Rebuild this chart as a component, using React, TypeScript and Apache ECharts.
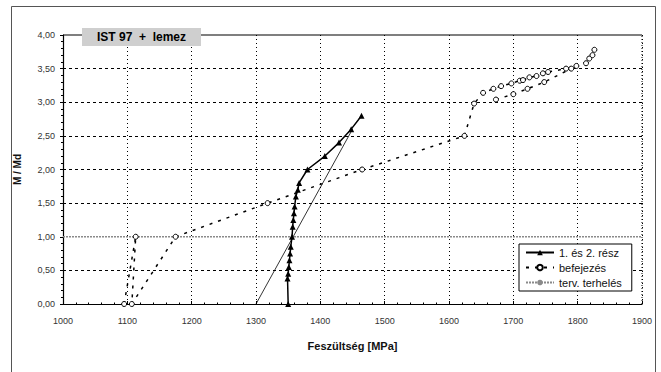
import React, { useEffect, useRef } from "react";
import * as echarts from "echarts";

// Stage 1 & 2 loading path (stress in MPa, relative moment M/Md)
const stageX = [1350, 1349, 1350, 1351, 1352, 1353, 1354, 1356, 1357, 1358, 1359, 1360, 1362, 1365, 1367, 1380, 1407, 1429, 1448, 1464];
const stageY = [0, 0.38, 0.45, 0.55, 0.65, 0.75, 0.85, 1.0, 1.15, 1.25, 1.35, 1.45, 1.6, 1.7, 1.8, 2.0, 2.2, 2.4, 2.6, 2.8];

// Straight reference line of the stage path
const refX = [1300, 1450];
const refY = [0, 2.6];

// Completion ("befejezés") path, main branch
const finishX = [1095, 1113, 1107, 1175, 1318, 1465, 1624, 1639, 1653, 1669, 1681, 1697, 1710, 1715, 1725, 1736, 1746, 1754, 1782, 1798, 1813, 1818, 1823, 1826];
const finishY = [0, 1.0, 0, 1.0, 1.5, 2.0, 2.5, 2.98, 3.14, 3.2, 3.24, 3.28, 3.32, 3.33, 3.37, 3.39, 3.43, 3.45, 3.5, 3.54, 3.58, 3.65, 3.7, 3.78];

// Completion path, lower branch
const finish2X = [1673, 1700, 1722, 1748, 1790];
const finish2Y = [3.04, 3.12, 3.2, 3.3, 3.5];

// Design load level
const designX = [1000, 1900];
const designY = [1, 1];

// Axis ranges
const X_MIN = 1000;
const X_MAX = 1900;
const Y_MIN = 0;
const Y_MAX = 4;

const legendNames = ["1. és 2. rész", "befejezés", "terv. terhelés"];
const titleText = "IST 97  +  lemez";
const xName = "Feszültség [MPa]";
const yName = "M / Md";

const pairs = (xs: number[], ys: number[]) => xs.map((x, i) => [x, ys[i]]);

const FONT = "Liberation Sans, Arial, sans-serif";
const W = 661;
const H = 372;

export default function App() {
  const ref = useRef<HTMLDivElement>(null);

  useEffect(() => {
    if (!ref.current) return;
    const chart = echarts.init(ref.current, null, { renderer: "svg" });

    // no dashed grid line at 1.00 (design load line) nor at 4.00 (solid frame edge)
    const ySplitColors = ["#000", "#000", "rgba(0,0,0,0)", "#000", "#000", "#000", "#000", "#000", "rgba(0,0,0,0)"];

    chart.setOption({
      animation: false,
      backgroundColor: "#fff",
      textStyle: { fontFamily: FONT },
      grid: { left: 63, right: 19, top: 35, bottom: 68, containLabel: false },
      xAxis: {
        type: "value",
        min: X_MIN,
        max: X_MAX,
        interval: 100,
        name: xName,
        nameLocation: "middle",
        nameGap: 36,
        nameTextStyle: { fontWeight: "bold", fontSize: 11, color: "#111", fontFamily: FONT },
        axisLine: { show: true, onZero: false, lineStyle: { color: "#000", width: 1.2 } },
        axisTick: { show: true, inside: true, length: 3, lineStyle: { color: "#000" } },
        minorTick: { show: true, splitNumber: 5, length: 1.5, lineStyle: { color: "#000" } },
        axisLabel: {
          fontSize: 9,
          color: "#333",
          margin: 12,
          fontFamily: FONT,
          formatter: (v: number) => String(v),
        },
        splitLine: { show: true, lineStyle: { color: "#000", type: [1, 3], width: 1 } },
      },
      yAxis: {
        type: "value",
        min: Y_MIN,
        max: Y_MAX,
        interval: 0.5,
        name: yName,
        nameLocation: "middle",
        nameGap: 41,
        nameTextStyle: { fontWeight: "bold", fontSize: 10, color: "#111", fontFamily: FONT },
        axisLine: { show: true, onZero: false, lineStyle: { color: "#000", width: 1.2 } },
        axisTick: { show: true, length: 3, lineStyle: { color: "#000" } },
        minorTick: { show: true, splitNumber: 5, length: 2, lineStyle: { color: "#000" } },
        axisLabel: {
          fontSize: 9,
          color: "#333",
          margin: 8,
          fontFamily: FONT,
          formatter: (v: number) => v.toFixed(2).replace(".", ","),
        },
        splitLine: { show: true, lineStyle: { color: ySplitColors, type: [3, 3], width: 1 } },
      },
      legend: {
        data: legendNames,
        orient: "vertical",
        left: 519,
        top: 244,
        backgroundColor: "#fff",
        borderColor: "#000",
        borderWidth: 1,
        borderRadius: 0,
        padding: [3, 10, 3, 6],
        itemGap: 4,
        itemWidth: 28,
        itemHeight: 7,
        textStyle: { fontSize: 11, color: "#111", fontFamily: FONT },
      },
      series: [
        // plot frame: solid top edge and dotted right edge along the axis limits
        {
          type: "line",
          data: [[X_MIN, Y_MAX], [X_MAX, Y_MAX]],
          symbol: "none",
          clip: false,
          silent: true,
          lineStyle: { color: "#000", width: 1.2 },
          z: 0,
        },
        {
          type: "line",
          data: [[X_MAX, Y_MIN], [X_MAX, Y_MAX]],
          symbol: "none",
          clip: false,
          silent: true,
          lineStyle: { color: "#000", width: 1, type: [1, 2] },
          z: 0,
        },
        {
          type: "line",
          name: legendNames[2],
          data: pairs(designX, designY),
          symbol: "none",
          lineStyle: { color: "#8a8a8a", width: 1.5, type: [2, 1] },
          itemStyle: { color: "#8a8a8a" },
          z: 1,
        },
        {
          type: "line",
          data: pairs(refX, refY),
          symbol: "none",
          lineStyle: { color: "#000", width: 0.8 },
          z: 2,
        },
        {
          type: "line",
          name: legendNames[1],
          data: pairs(finishX, finishY),
          symbol: "circle",
          symbolSize: 5,
          lineStyle: { color: "#000", width: 1.5, type: [3, 6] },
          itemStyle: { color: "#fff", borderColor: "#000", borderWidth: 1 },
          z: 3,
        },
        {
          type: "line",
          name: legendNames[1],
          data: pairs(finish2X, finish2Y),
          symbol: "circle",
          symbolSize: 5,
          lineStyle: { color: "#000", width: 1.5, type: [3, 6] },
          itemStyle: { color: "#fff", borderColor: "#000", borderWidth: 1 },
          z: 3,
        },
        {
          type: "line",
          name: legendNames[0],
          data: pairs(stageX, stageY),
          symbol: "triangle",
          symbolSize: 6,
          lineStyle: { color: "#000", width: 1.5 },
          itemStyle: { color: "#000" },
          z: 4,
        },
      ],
      graphic: [
        {
          type: "rect",
          silent: true,
          shape: { x: 11.5, y: 6.5, width: 644, height: 400 },
          style: { fill: "none", stroke: "#555", lineWidth: 1 },
          z: 0,
        },
        {
          type: "rect",
          silent: true,
          shape: { x: 82, y: 28, width: 119, height: 18 },
          style: { fill: "#cfcfcf" },
          z: 100,
        },
        {
          type: "text",
          silent: true,
          x: 141.5,
          y: 37,
          style: {
            text: titleText,
            font: "bold 12px " + FONT,
            fill: "#000",
            align: "center",
            verticalAlign: "middle",
          },
          z: 101,
        },
      ],
    });

    return () => chart.dispose();
  }, []);

  return (
    <div
      ref={ref}
      style={{ position: "fixed", left: 0, top: 0, width: W, height: H }}
    />
  );
}
